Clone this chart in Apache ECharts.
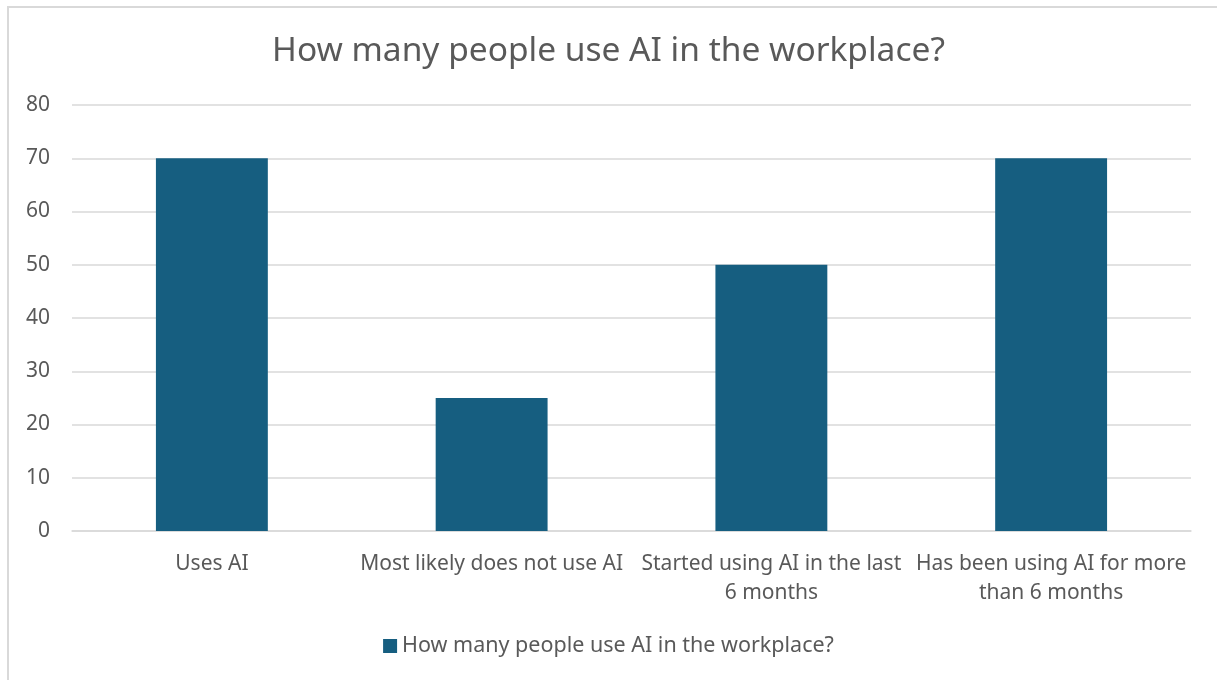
<!DOCTYPE html>
<html>
<head>
<meta charset="utf-8">
<script src="https://cdn.jsdelivr.net/npm/echarts@6/dist/echarts.min.js"></script>
<style>
  html, body { margin: 0; padding: 0; background: #ffffff; overflow: hidden; }
  #frame {
    position: absolute; left: 7px; top: 6px; width: 1220px; height: 690px;
    border-left: 2px solid #d9d9d9; border-top: 2px solid #d9d9d9; box-sizing: border-box;
  }
  #chart { position: absolute; left: 0; top: 0; width: 1217px; height: 680px; }
</style>
</head>
<body>
<div id="frame"></div>
<div id="chart"></div>
<script>
const chartTitle = 'How many people use AI in the workplace?';
const seriesName = 'How many people use AI in the workplace?';
const categories = [
  'Uses AI',
  'Most likely does not use AI',
  'Started using AI in the last\n6 months',
  'Has been using AI for more\nthan 6 months'
];
const values = [70, 25, 50, 70];
const yTicks = { min: 0, max: 80, interval: 10 };

const textColor = '#595959';
const fontFamily = '"Noto Sans", "Open Sans", sans-serif';

const chart = echarts.init(document.getElementById('chart'), null, { renderer: 'canvas' });
chart.setOption({
  backgroundColor: 'transparent',
  animation: false,
  title: {
    text: chartTitle,
    left: 'center',
    top: 29,
    textStyle: { color: textColor, fontSize: 33.5, fontWeight: 'normal', fontFamily: fontFamily }
  },
  legend: {
    bottom: 18,
    left: 'center',
    icon: 'rect',
    itemWidth: 14,
    itemHeight: 14,
    itemGap: 6,
    textStyle: { color: textColor, fontSize: 21.5, fontFamily: fontFamily },
    data: [seriesName]
  },
  grid: { left: 72, right: 26, top: 105, bottom: 149, containLabel: false },
  xAxis: {
    type: 'category',
    data: categories,
    axisLine: { show: true, lineStyle: { color: '#d9d9d9', width: 1.5 } },
    axisTick: { show: false },
    axisLabel: {
      color: textColor, fontSize: 21, fontFamily: fontFamily,
      margin: 19, lineHeight: 29, interval: 0
    }
  },
  yAxis: {
    type: 'value',
    min: yTicks.min, max: yTicks.max, interval: yTicks.interval,
    axisLine: { show: false },
    axisTick: { show: false },
    axisLabel: { color: textColor, fontSize: 21, fontFamily: fontFamily, margin: 22 },
    splitLine: { lineStyle: { color: '#d9d9d9', width: 1.5 } }
  },
  series: [{
    name: seriesName,
    type: 'bar',
    data: values,
    barWidth: '40%',
    itemStyle: { color: '#165e80' }
  }]
});
</script>
</body>
</html>
